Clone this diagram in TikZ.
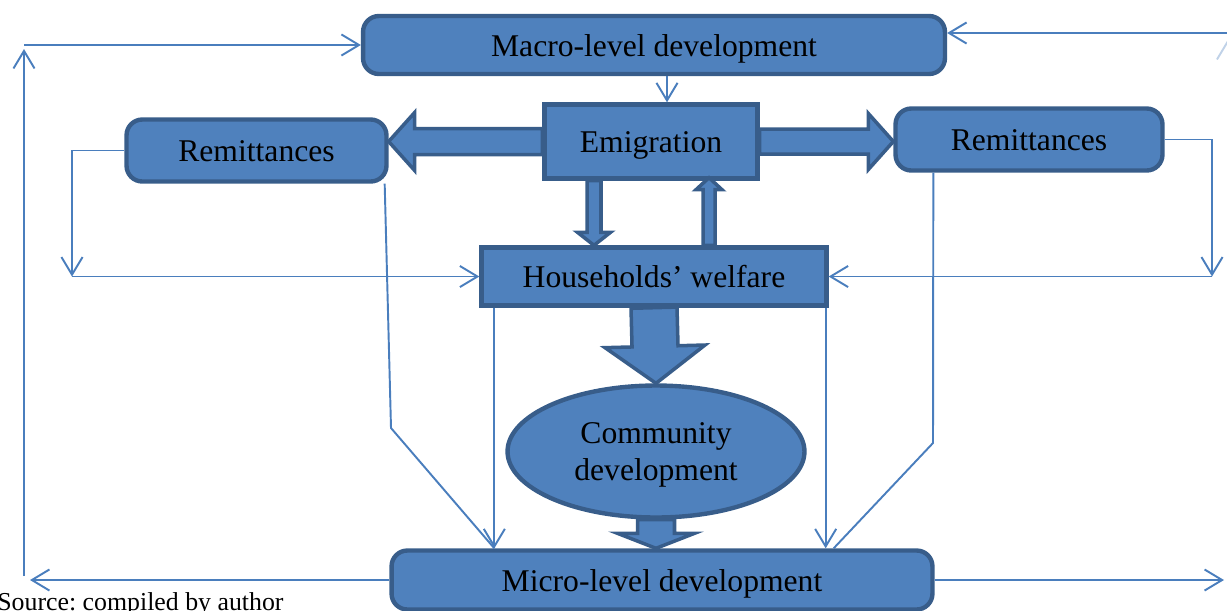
\documentclass[tikz,border=0pt]{standalone}
\usepackage{fontspec}
\setmainfont{Liberation Serif}
\frenchspacing
\usetikzlibrary{calc, shapes.geometric, arrows.meta}
\definecolor{boxfill}{RGB}{79,129,189}
\definecolor{boxline}{RGB}{56,93,138}
\definecolor{flowcol}{RGB}{74,126,189}
% thick outlined arrow: from, to, shaft half width, head half width, head length
\newcommand{\blockarrow}[5]{%
  \coordinate (ba) at (#1);
  \coordinate (be) at (#2);
  \coordinate (bb) at ($(be)!#5!(ba)$);
  \draw[fat] ($(ba)!#3!90:(be)$) -- ($(bb)!#3!-90:(ba)$) -- ($(bb)!#4!-90:(ba)$) -- (be)
    -- ($(bb)!#4!90:(ba)$) -- ($(bb)!#3!90:(ba)$) -- ($(ba)!#3!-90:(be)$) -- cycle;
}

\begin{document}
\begin{tikzpicture}[x=0.02cm, y=-0.02cm]
    \tikzset{box/.style = {draw=boxline, fill=boxfill, line width=2.5pt, inner sep=0pt, align=center, font=\fontsize{18}{21.5}\selectfont}}
    \tikzset{onetext/.style = {text height=12.6pt, text depth=0pt}}
    \tikzset{rbox/.style = {box, onetext, rounded corners=9pt}}
    \tikzset{flow/.style = {draw=flowcol, line width=1.1pt, -{Straight Barb[length=10pt,width=12pt]}}}
    \tikzset{plain/.style = {draw=flowcol, line width=1.1pt}}
    \tikzset{fat/.style = {draw=boxline, fill=boxfill, line width=2pt, line join=miter}}

    \useasboundingbox (0,0) rectangle (1227,610);

    \node[rbox, minimum width=11.64cm, minimum height=1.16cm] (macro) at (654,45) {Macro-level development};
    \node[box, onetext, minimum width=4.26cm, minimum height=1.48cm] (emig) at (651,141.5) {Emigration};
    \node[rbox, minimum width=5.2cm, minimum height=1.24cm] (remL) at (256.5,150.5) {Remittances};
    \node[rbox, minimum width=5.34cm, minimum height=1.24cm] (remR) at (1029,139.5) {Remittances};
    \node[box, onetext, minimum width=6.9cm, minimum height=1.16cm] (hh) at (654,276.5) {Households’ welfare};
    \node[box, ellipse, text depth=0pt, minimum width=5.94cm, minimum height=2.64cm] (comm) at (656,451.5) {Community\\development};
    \node[rbox, minimum width=10.82cm, minimum height=1.18cm] (micro) at (662,580) {Micro-level development};

    \node[anchor=base west, inner sep=0pt, font=\fontsize{14.7}{17}\selectfont] (src) at (-3,610) {Source: compiled by author};

    % block arrows
    \blockarrow{emig.west}{remL.east |- emig.west}{0.26cm}{0.58cm}{0.52cm}
    \blockarrow{emig.east}{remR.west |- emig.east}{0.25cm}{0.56cm}{0.5cm}
    \blockarrow{$(emig.south)+(-57,0)$}{$(hh.north)+(-60,0)$}{0.14cm}{0.33cm}{0.26cm}
    \blockarrow{$(hh.north)+(55,0)$}{$(emig.south)+(58,-3)$}{0.12cm}{0.26cm}{0.24cm}
    \blockarrow{hh.south}{comm.north}{0.46cm}{1cm}{0.74cm}
    \blockarrow{comm.south}{comm.south |- micro.north}{0.37cm}{0.77cm}{0.3cm}

    % outer loops
    \coordinate (lout) at (30,580);
    \coordinate (lbot) at (24,576);
    \coordinate (ltop) at (24,49);
    \draw[flow] (micro.west) -- (lout);
    \draw[flow] (lbot) -- (ltop);
    \draw[flow] (ltop |- macro.west) -- (macro.west);

    \coordinate (rout) at (1224,580);
    \coordinate (rbot) at (1227.5,575);
    \coordinate (rtop) at (1227.5,40);
    \coordinate (rin) at (1227.5,33);
    \draw[flow] (micro.east) -- (rout);
    \draw[flow, draw=flowcol!35] (rbot) -- (rtop);
    \draw[flow] (rin) -- (rin -| macro.east);

    % macro to emigration
    \draw[flow] ($(macro.south)+(13,0)$) coordinate (mx) -- (mx |- emig.north);

    % remittances back to households
    \coordinate (lcol) at (72,0);
    \coordinate (rcol) at (1212,0);
    \draw[flow] (remL.west) -| (lcol |- hh.west);
    \draw[flow] (lcol |- hh.west) -- (hh.west);
    \draw[flow] (remR.east) -| (rcol |- hh.east);
    \draw[flow] (rcol |- hh.east) -- (hh.east);

    % households and remittances to micro level
    \draw[flow] ($(hh.south west)+(15,0)$) coordinate (hl) -- (hl |- micro.north);
    \draw[flow] ($(hh.south east)+(-3,0)$) coordinate (hr) -- (hr |- micro.north);
    \coordinate (lbend) at (391,428);
    \coordinate (rbend) at (933,443);
    \draw[plain] ($(remL.south east)+(-4,0)$) -- (lbend) -- (hl |- micro.north);
    \draw[plain] ($(remR.south west)+(40,0)$) -- (rbend) -- ($(hr |- micro.north)+(8,0)$);
\end{tikzpicture}
\end{document}
